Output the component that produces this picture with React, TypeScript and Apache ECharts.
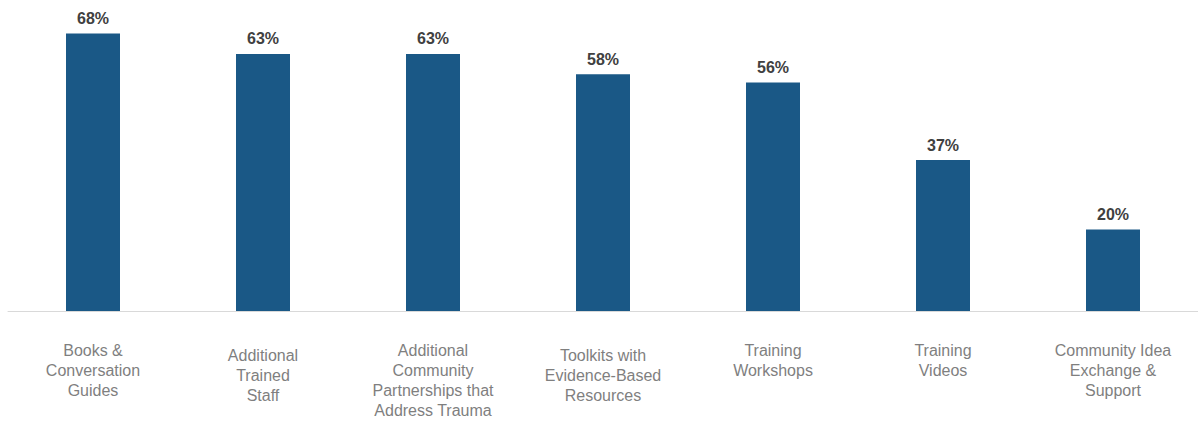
import React, { useEffect, useRef } from "react";
import * as echarts from "echarts";

const categories = [
  "Books &\nConversation\nGuides",
  "Additional\nTrained\nStaff",
  "Additional\nCommunity\nPartnerships that\nAddress Trauma",
  "Toolkits with\nEvidence-Based\nResources",
  "Training\nWorkshops",
  "Training\nVideos",
  "Community Idea\nExchange &\nSupport",
];
const labelOffsets = [0, 5, 0, 5, 0, 0, 0];
const values = [68, 63, 63, 58, 56, 37, 20];

export default function App() {
  const ref = useRef<HTMLDivElement>(null);
  useEffect(() => {
    const chart = echarts.init(ref.current!, null, { renderer: "svg" });
    chart.setOption({
      animation: false,
      grid: { left: 8, right: 0, top: 5, bottom: 111, containLabel: false },
      xAxis: {
        type: "category",
        data: categories.map((c, i) => ({
          value: c,
          textStyle: { padding: [labelOffsets[i], 0, 0, 0] },
        })),
        axisLine: { lineStyle: { color: "#d9d9d9", width: 1 } },
        axisTick: { show: false },
        axisLabel: {
          interval: 0,
          margin: 29,
          color: "#7f7f7f",
          fontFamily: "Liberation Sans, Arial, sans-serif",
          fontSize: 16,
          lineHeight: 20,
          align: "center",
        },
      },
      yAxis: {
        type: "value",
        min: 0,
        max: 75,
        show: false,
        splitLine: { show: false },
      },
      series: [
        {
          type: "bar",
          data: values,
          barWidth: 54,
          itemStyle: { color: "#1a5886" },
          label: {
            show: true,
            position: "top",
            distance: 7,
            formatter: "{c}%",
            color: "#404040",
            fontWeight: "bold",
            fontSize: 16,
            fontFamily: "Liberation Sans, Arial, sans-serif",
          },
        },
      ],
    });
    return () => chart.dispose();
  }, []);
  return <div ref={ref} style={{ width: 1198, height: 422, position: "absolute", left: 0, top: 0 }} />;
}
